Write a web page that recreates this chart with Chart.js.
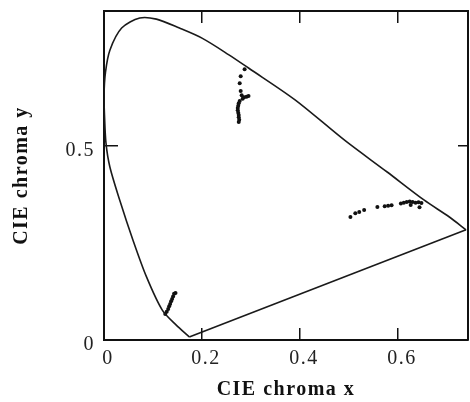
<!DOCTYPE html>
<html>
<head>
<meta charset="utf-8">
<script src="https://cdn.jsdelivr.net/npm/chart.js@4.4.1/dist/chart.umd.min.js"></script>
<style>
  html, body { margin: 0; padding: 0; background: #fff; overflow: hidden; }
  #wrap { width: 472px; height: 402px; }
</style>
</head>
<body>
<div id="wrap"><canvas id="cie" width="472" height="402"></canvas></div>
<script>
// CIE 1931 chromaticity diagram with three measured point clusters.
// Values read off the scanned figure.

const X_TICKS = [0, 0.2, 0.4, 0.6];
const Y_TICKS = [0, 0.5];
const X_MAX = 0.743;
const Y_MAX = 0.848;

// spectral locus (horseshoe), violet end -> red end
const LOCUS_X = [0.174, 0.147, 0.119, 0.087, 0.059, 0.032, 0.012, 0.004, 0.001, 0.000, 0.003, 0.012,
                 0.036, 0.073, 0.107, 0.154, 0.200, 0.255, 0.295, 0.390, 0.491, 0.578, 0.653, 0.705, 0.739];
const LOCUS_Y = [0.008, 0.039, 0.077, 0.162, 0.258, 0.361, 0.446, 0.508, 0.580, 0.630, 0.690, 0.747,
                 0.804, 0.830, 0.827, 0.804, 0.778, 0.735, 0.701, 0.619, 0.515, 0.433, 0.361, 0.317, 0.284];

// line of purples, red end -> violet end
const PURPLE_X = [0.739, 0.174];
const PURPLE_Y = [0.284, 0.008];

// measured clusters
const GREEN_X = [0.287, 0.279, 0.277, 0.279, 0.281, 0.286, 0.291, 0.295, 0.283, 0.277, 0.275, 0.274,
                 0.273, 0.273, 0.274, 0.275, 0.275, 0.276, 0.275];
const GREEN_Y = [0.698, 0.680, 0.662, 0.642, 0.631, 0.626, 0.627, 0.629, 0.622, 0.616, 0.610, 0.604,
                 0.598, 0.592, 0.586, 0.580, 0.574, 0.568, 0.562];

const RED_X = [0.503, 0.513, 0.521, 0.531, 0.558, 0.573, 0.580, 0.587, 0.606, 0.612, 0.618, 0.624,
               0.630, 0.636, 0.642, 0.648, 0.644, 0.626];
const RED_Y = [0.317, 0.327, 0.330, 0.335, 0.343, 0.345, 0.346, 0.347, 0.352, 0.354, 0.356, 0.357,
               0.356, 0.354, 0.355, 0.353, 0.342, 0.348];

const BLUE_X = [0.146, 0.143, 0.141, 0.139, 0.137, 0.135, 0.133, 0.131, 0.128, 0.125];
const BLUE_Y = [0.121, 0.119, 0.112, 0.106, 0.100, 0.093, 0.087, 0.080, 0.073, 0.067];

const INK = '#111';
const pts = (xs, ys) => xs.map((x, i) => ({ x, y: ys[i] }));
const tickFont = { family: 'Liberation Serif', size: 20 };
const titleFont = { family: 'Liberation Serif', size: 20, weight: 'bold', lineHeight: 1.2 };
const setTicks = (vals) => (s) => { s.ticks = vals.map((v) => ({ value: v })); };

// fixed box sizes, no label overhang padding (frame fills the canvas like the scan)
const fixSize = (prop, size) => (s) => {
  s[prop] = size;
  s.paddingTop = s.paddingBottom = s.paddingLeft = s.paddingRight = 0;
};

// canvas letter spacing (the scanned titles are set wide)
const spacing = {
  id: 'spacing',
  beforeDraw(chart) { chart.ctx.letterSpacing = '1.5px'; },
};

const markSet = (xs, ys) => ({
  type: 'scatter', data: pts(xs, ys), pointRadius: 2, pointBorderWidth: 0,
  backgroundColor: INK, borderColor: INK,
});

new Chart(document.getElementById('cie'), {
  type: 'scatter',
  data: {
    datasets: [
      { type: 'line', data: pts(LOCUS_X, LOCUS_Y), borderColor: '#1a1a1a', borderWidth: 1.6,
        pointRadius: 0, tension: 0.3, fill: false },
      { type: 'line', data: pts(PURPLE_X, PURPLE_Y), borderColor: '#1a1a1a', borderWidth: 1.6,
        pointRadius: 0, tension: 0, fill: false },
      markSet(GREEN_X, GREEN_Y),
      markSet(RED_X, RED_Y),
      markSet(BLUE_X, BLUE_Y),
    ],
  },
  options: {
    responsive: false,
    animation: false,
    layout: { padding: 0 },
    plugins: { legend: { display: false }, tooltip: { enabled: false } },
    scales: {
      x: {
        type: 'linear', position: 'bottom', min: 0, max: X_MAX,
        afterBuildTicks: setTicks(X_TICKS),
        afterFit: fixSize('height', 62),
        border: { display: true, color: INK, width: 2 },
        grid: { drawOnChartArea: false, color: INK, lineWidth: 1.5, tickLength: -12 },
        ticks: { color: '#222', font: tickFont, padding: 19, labelOffset: 4, maxRotation: 0,
                 callback: (v) => String(v) },
        title: { display: true, text: 'CIE chroma x', color: '#111', font: titleFont,
                 padding: { top: 0, bottom: 0 } },
      },
      x2: {
        type: 'linear', position: 'top', min: 0, max: X_MAX,
        afterBuildTicks: setTicks(X_TICKS),
        afterFit: fixSize('height', 11),
        border: { display: true, color: INK, width: 2 },
        grid: { drawOnChartArea: false, color: INK, lineWidth: 1.5, tickLength: -12 },
        ticks: { display: false },
      },
      y: {
        type: 'linear', position: 'left', min: 0, max: Y_MAX,
        afterBuildTicks: setTicks(Y_TICKS),
        afterFit: fixSize('width', 104),
        border: { display: true, color: INK, width: 2 },
        grid: { drawOnChartArea: false, color: INK, lineWidth: 1.5, tickLength: -14 },
        ticks: { color: '#222', font: tickFont, padding: 23, labelOffset: 5,
                 callback: (v) => String(v) },
        title: { display: true, text: 'CIE chroma y', color: '#111', font: titleFont,
                 padding: { top: 10, bottom: 0 } },
      },
      y2: {
        type: 'linear', position: 'right', min: 0, max: Y_MAX,
        afterBuildTicks: setTicks([0.5]),
        afterFit: fixSize('width', 0),
        border: { display: true, color: INK, width: 2 },
        grid: { drawOnChartArea: false, color: INK, lineWidth: 1.5, tickLength: -10 },
        ticks: { display: false },
      },
    },
  },
  plugins: [spacing],
});
</script>
</body>
</html>
